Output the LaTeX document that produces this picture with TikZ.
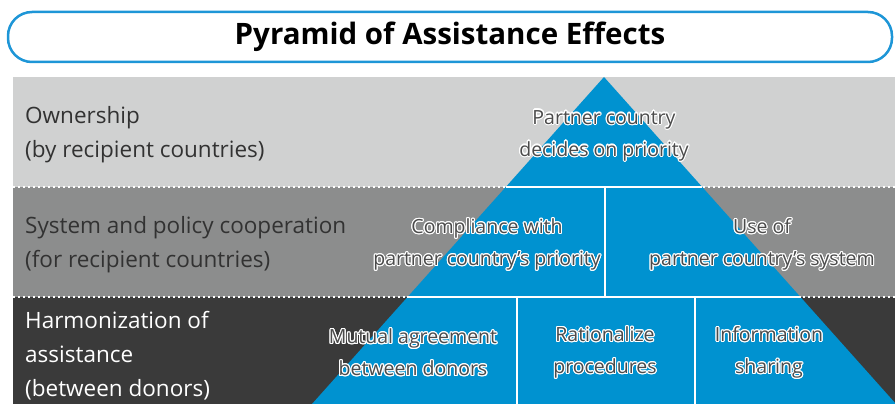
\documentclass[tikz,border=0pt]{standalone}
\usepackage{fontspec}
\setmainfont{Open Sans}
\usepackage{contour}
\contourlength{1.1pt}

\definecolor{bandlight}{RGB}{208,209,209}
\definecolor{bandmid}{RGB}{140,141,141}
\definecolor{banddark}{RGB}{58,58,58}
\definecolor{pyrblue}{RGB}{0,146,208}
\definecolor{titleblue}{RGB}{30,150,215}
\definecolor{labelgray}{RGB}{50,50,50}
\definecolor{pyrtext}{RGB}{75,75,75}

% dark letters with a white glow
\newcommand{\halo}[1]{\contour{white}{#1}}

\tikzset{
  rowlabel/.style={anchor=west, align=left, inner sep=0pt, font=\fontsize{22.5}{34}\selectfont, text=labelgray},
  pyrlabel/.style={align=center, inner sep=0pt, text=pyrtext, font=\fontsize{19.5}{32}\selectfont},
  sepline/.style={white, line width=2.5pt},
  dotline/.style={white, line width=2pt, dash pattern=on 2pt off 3pt},
}

\begin{document}
\begin{tikzpicture}[x=1pt, y=-1pt]
  \useasboundingbox (0,0) rectangle (895,404);

  % Title box
  \node[draw=titleblue, line width=2.5pt, rounded corners=24pt, fill=white,
        minimum width=884pt, minimum height=50pt,
        font=\fontsize{29.5}{32}\selectfont\bfseries] (title) at (450,37) {Pyramid of Assistance Effects};

  % Three bands
  \fill[bandlight] (13,77) rectangle (895,187);
  \fill[bandmid] (13,187) rectangle (895,297);
  \fill[banddark] (13,297) rectangle (895,404);

  % Pyramid
  \begin{scope}
    \clip (13,77) rectangle (895,404);
    \fill[pyrblue] (604,77) -- (312,404) -- (896,404) -- cycle;
  \end{scope}

  % Band borders
  \draw[dotline] (13,187) -- (895,187);
  \draw[dotline] (13,297) -- (895,297);
  \draw[sepline] (506,187) -- (702,187);
  \draw[sepline] (407,297) -- (801,297);

  % Cell borders inside the pyramid
  \draw[sepline] (605,187) -- (605,297);
  \draw[sepline] (517,297) -- (517,404);
  \draw[sepline] (695,297) -- (695,404);

  % Row labels
  \node[rowlabel] (own) at (25,135) {Ownership\\(by recipient countries)};
  \node[rowlabel] (sys) at (25,245) {System and policy cooperation\\(for recipient countries)};
  \node[rowlabel, text=white] (harm) at (25,356) {Harmonization of\\assistance\\(between donors)};

  % Pyramid labels
  \node[pyrlabel] (decide) at (604,136) {\halo{Partner country}\\\halo{decides on priority}};
  \node[pyrlabel] (comply) at (487,245) {\halo{Compliance with}\\\halo{partner country's priority}};
  \node[pyrlabel] (usesys) at (762,245) {\halo{Use of}\\\halo{partner country's system}};
  \node[pyrlabel] (mutual) at (413,353) {\halo{Mutual agreement}\\\halo{between donors}};
  \node[pyrlabel] (ration) at (605,353) {\halo{Rationalize}\\\halo{procedures}};
  \node[pyrlabel] (share) at (769,353) {\halo{Information}\\\halo{sharing}};
\end{tikzpicture}
\end{document}
